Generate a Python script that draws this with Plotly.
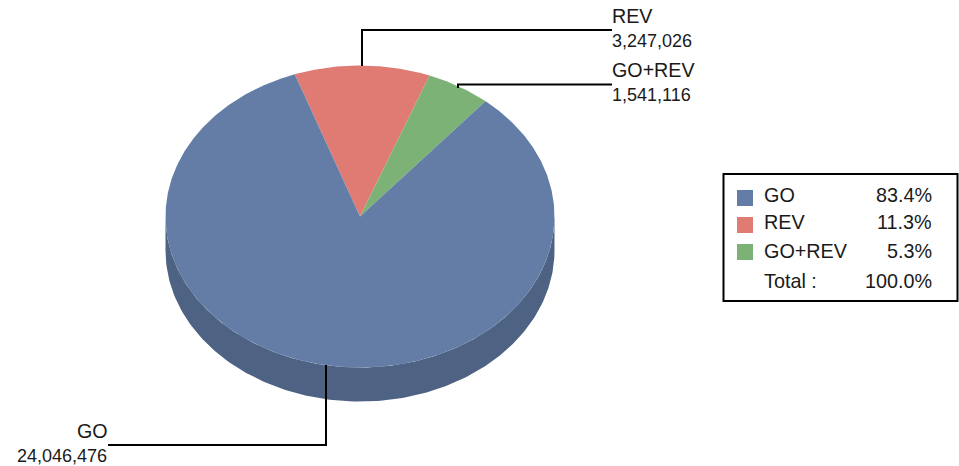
import numpy as np
import plotly.graph_objects as go

categories = ["GO", "REV", "GO+REV"]
values = [24046476, 3247026, 1541116]
value_labels = ["24,046,476", "3,247,026", "1,541,116"]
percent_labels = ["83.4%", "11.3%", "5.3%"]
total_label = "100.0%"

colors = ["#637DA6", "#E07B74", "#7DB277"]
side_color = "#4E6383"
FONT = "Liberation Sans, Arial, sans-serif"
INK = "#1a1a1a"

CX, CY, RX, RY, DEPTH = 360, 216.5, 194.5, 151, 34
START = -19.6  # degrees clockwise from top, where the REV slice begins

fig = go.Figure()


def ellipse(a_deg, dy=0.0):
    a = np.radians(a_deg)
    return CX + RX * np.sin(a), CY + dy - RY * np.cos(a)


# extruded side (front half only)
angles = np.linspace(90, 270, 181)
x1, y1 = ellipse(angles)
x2, y2 = ellipse(angles[::-1], DEPTH)
fig.add_trace(go.Scatter(x=np.r_[x1, x2], y=np.r_[y1, y2], mode="lines", fill="toself",
                         fillcolor=side_color, line=dict(width=0), hoverinfo="skip"))

# slices, clockwise from START in the order REV, GO+REV, GO
total = sum(values)
a0 = START
for i in [1, 2, 0]:
    sweep = values[i] / total * 360
    a = np.linspace(a0, a0 + sweep, max(int(sweep * 2), 2))
    x, y = ellipse(a)
    fig.add_trace(go.Scatter(x=np.r_[CX, x, CX], y=np.r_[CY, y, CY], mode="lines", fill="toself",
                             fillcolor=colors[i], line=dict(width=0), name=categories[i],
                             hoverinfo="name"))
    a0 += sweep

# leader lines
leaders = [
    ([326, 326, 108], [365, 445, 445]),
    ([362, 362, 612], [66, 30, 30]),
    ([458, 458, 612], [88, 84.5, 84.5]),
]
for lx, ly in leaders:
    fig.add_trace(go.Scatter(x=lx, y=ly, mode="lines", line=dict(color="#000000", width=2),
                             hoverinfo="skip"))

# legend swatches
sw_y = [198, 225, 252]
fig.add_trace(go.Scatter(x=[745] * 3, y=sw_y, mode="markers", hoverinfo="skip",
                         marker=dict(symbol="square", size=16, color=colors, line=dict(width=0))))


def note(x, y, text, anchor, size):
    fig.add_annotation(x=x, y=y, text=text, showarrow=False, xanchor=anchor, yanchor="middle",
                       font=dict(family=FONT, size=size, color=INK), xref="x", yref="y",
                       borderpad=0, borderwidth=0)


# slice labels
note(612, 16, categories[1], "left", 19.7)
note(612, 41, value_labels[1], "left", 18)
note(612, 70, categories[2], "left", 19.7)
note(612, 95, value_labels[2], "left", 18)
note(108, 431, categories[0], "right", 19.7)
note(107, 456, value_labels[0], "right", 18)

# legend text
leg_y = [195, 222, 251]
for yy, c, p in zip(leg_y, categories, percent_labels):
    note(764, yy, c, "left", 19.8)
    note(932, yy, p, "right", 19.8)
note(764, 281, "Total :", "left", 19.8)
note(932, 281, total_label, "right", 19.8)

fig.update_layout(
    width=959, height=466, margin=dict(l=0, r=0, t=0, b=0),
    paper_bgcolor="white", plot_bgcolor="white", showlegend=False,
    xaxis=dict(range=[0, 959], visible=False, fixedrange=True),
    yaxis=dict(range=[466, 0], visible=False, fixedrange=True),
    shapes=[dict(type="rect", x0=723.5, y0=174, x1=957.5, y1=301,
                 line=dict(color="#000000", width=2), fillcolor="rgba(0,0,0,0)", layer="below")],
)

fig.write_html("out.html", config={"displayModeBar": False},
               post_script="document.body.style.margin='0';")
